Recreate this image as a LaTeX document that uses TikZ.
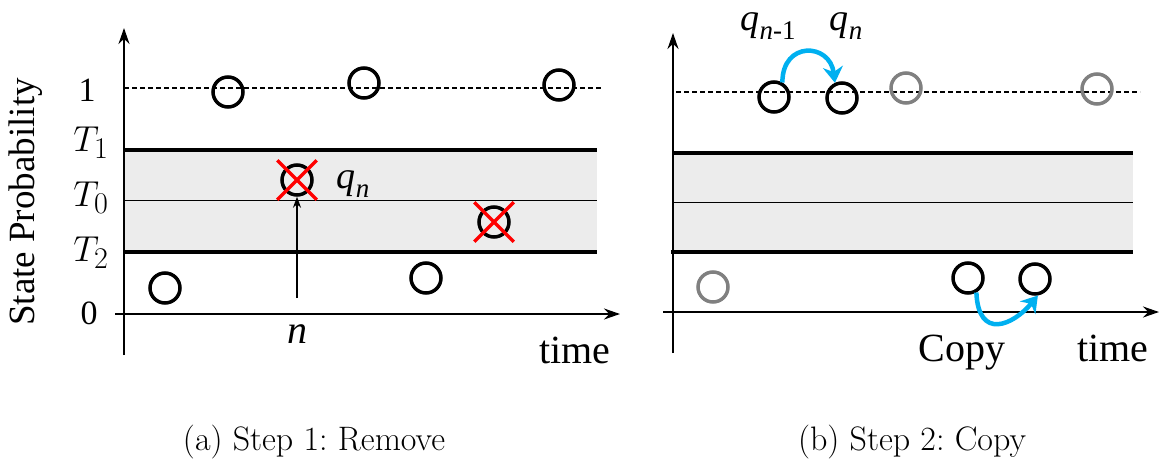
\documentclass[tikz,border=0pt]{standalone}
\usepackage{amsmath,amssymb}
\usepackage{graphicx}
\usepackage{fontspec}
\newfontfamily\timesf{Liberation Serif}
\usetikzlibrary{arrows.meta,shapes.misc}
\definecolor{copyblue}{RGB}{0,176,240}
\definecolor{band}{RGB}{236,236,236}
\definecolor{ghostgray}{RGB}{128,128,128}
\newcommand{\bigmath}[1]{\scalebox{1.45}{$#1$}}
\newcommand{\qlabel}[2]{\textit{q}\raisebox{-9pt}{\fontsize{27}{30}\selectfont\textit{#1}#2}}

\begin{document}
\begin{tikzpicture}[x=1pt, y=-1pt, >={Stealth[length=16pt,width=11pt]},
    axis/.style={line width=2.2pt, ->},
    level/.style={line width=4.5pt},
    state/.style={circle, draw, line width=3.5pt, minimum size=30pt, inner sep=0pt},
    ghost/.style={state, draw=ghostgray},
    removed/.style={cross out, draw=red, line width=3.5pt, minimum size=36pt, inner sep=0pt},
    copyarrow/.style={line width=4.5pt, draw=copyblue, -{Stealth[length=16pt,width=20pt]}},
    txt/.style={font=\timesf\fontsize{40}{44}\selectfont},
    qtxt/.style={font=\timesf\fontsize{38}{42}\selectfont},
    mth/.style={font=\fontsize{24.88}{30}\selectfont},
    caption/.style={font=\fontsize{24.88}{30}\selectfont}]
    \useasboundingbox (0,0) rectangle (1168,469);

    % (a) remove
    \fill[band] (124,150) rectangle (597,252);
    \draw[line width=1pt] (124,200) -- (597,200);
    \draw[level] (124,150) -- (597,150);
    \draw[level] (124,252) -- (597,252);
    \draw[dashed, dash pattern=on 5pt off 3pt, line width=1.5pt] (124,88) -- (603,88);
    \coordinate (ay0) at (124,355);
    \coordinate (ay1) at (124,28);
    \coordinate (ax0) at (115,314);
    \coordinate (ax1) at (620,314);
    \draw[axis] (ay0) -- (ay1);
    \draw[axis] (ax0) -- (ax1);

    \node[txt, rotate=90, font=\timesf\fontsize{37}{40}\selectfont] (ylab) at (26,202) {State Probability};
    \node[txt, font=\timesf\fontsize{34}{40}\selectfont] (one) at (87,90) {1};
    \node[txt, font=\timesf\fontsize{34}{40}\selectfont] (zero) at (89,313) {0};
    \node[mth] (t1) at (91,143) {\bigmath{T_1}};
    \node[mth] (t0) at (91,198) {\bigmath{T_0}};
    \node[mth] (t2) at (91,253) {\bigmath{T_2}};
    \node[txt] (timea) at (575,350) {time};

    \node[state] (a1) at (165,288) {};
    \node[state] (a2) at (228,92) {};
    \node[state] (a3) at (297,180) {};
    \node[state] (a4) at (364,83) {};
    \node[state] (a5) at (426,278) {};
    \node[state] (a6) at (494,222) {};
    \node[state] (a7) at (559,85) {};
    \node[removed] (xa3) at (a3) {};
    \node[removed] (xa6) at (a6) {};

    \node[qtxt] (qn) at (353,184) {\qlabel{n}{}};
    \node[txt] (n) at (297,334) {\textit{n}};
    \coordinate (nfoot) at (297,298);
    \draw[line width=2pt, -{Stealth[length=11pt,width=8pt]}] (nfoot) -- (a3);

    % (b) copy
    \fill[band] (673,153) rectangle (1133,252);
    \draw[line width=1pt] (673,202) -- (1133,202);
    \draw[level] (673,153) -- (1133,153);
    \draw[level] (671,252) -- (1133,252);
    \draw[dashed, dash pattern=on 5pt off 3pt, line width=1.5pt] (676,92) -- (1140,92);
    \coordinate (by0) at (673,353);
    \coordinate (by1) at (673,33);
    \coordinate (bx0) at (663,312);
    \coordinate (bx1) at (1159,312);
    \draw[axis] (by0) -- (by1);
    \draw[axis] (bx0) -- (bx1);

    \node[ghost] (b1) at (713,287) {};
    \node[state] (b2) at (774,97) {};
    \node[state] (b3) at (842,98) {};
    \node[ghost] (b4) at (906,88) {};
    \node[state] (b5) at (968,278) {};
    \node[state] (b6) at (1035,279) {};
    \node[ghost] (b7) at (1097,89) {};

    \node[qtxt] (qprev) at (768,26) {\qlabel{n}{-1}};
    \node[qtxt] (qcur) at (846,26) {\qlabel{n}{}};
    \node[txt] (copy) at (962,353) {Copy};
    \node[txt] (timeb) at (1113,348) {time};

    \draw[copyarrow] (b2.60) .. controls +(0,-42) and +(-5,-40) .. (b3.115);
    \draw[copyarrow] (b5.-60) .. controls +(2,48) and +(-25,30) .. (b6.-80);

    \node[caption] (capa) at (314,442) {\resizebox{262pt}{!}{(a) Step 1:\ Remove}};
    \node[caption] (capb) at (912,442) {\resizebox{228pt}{!}{(b) Step 2:\ Copy}};
\end{tikzpicture}
\end{document}
